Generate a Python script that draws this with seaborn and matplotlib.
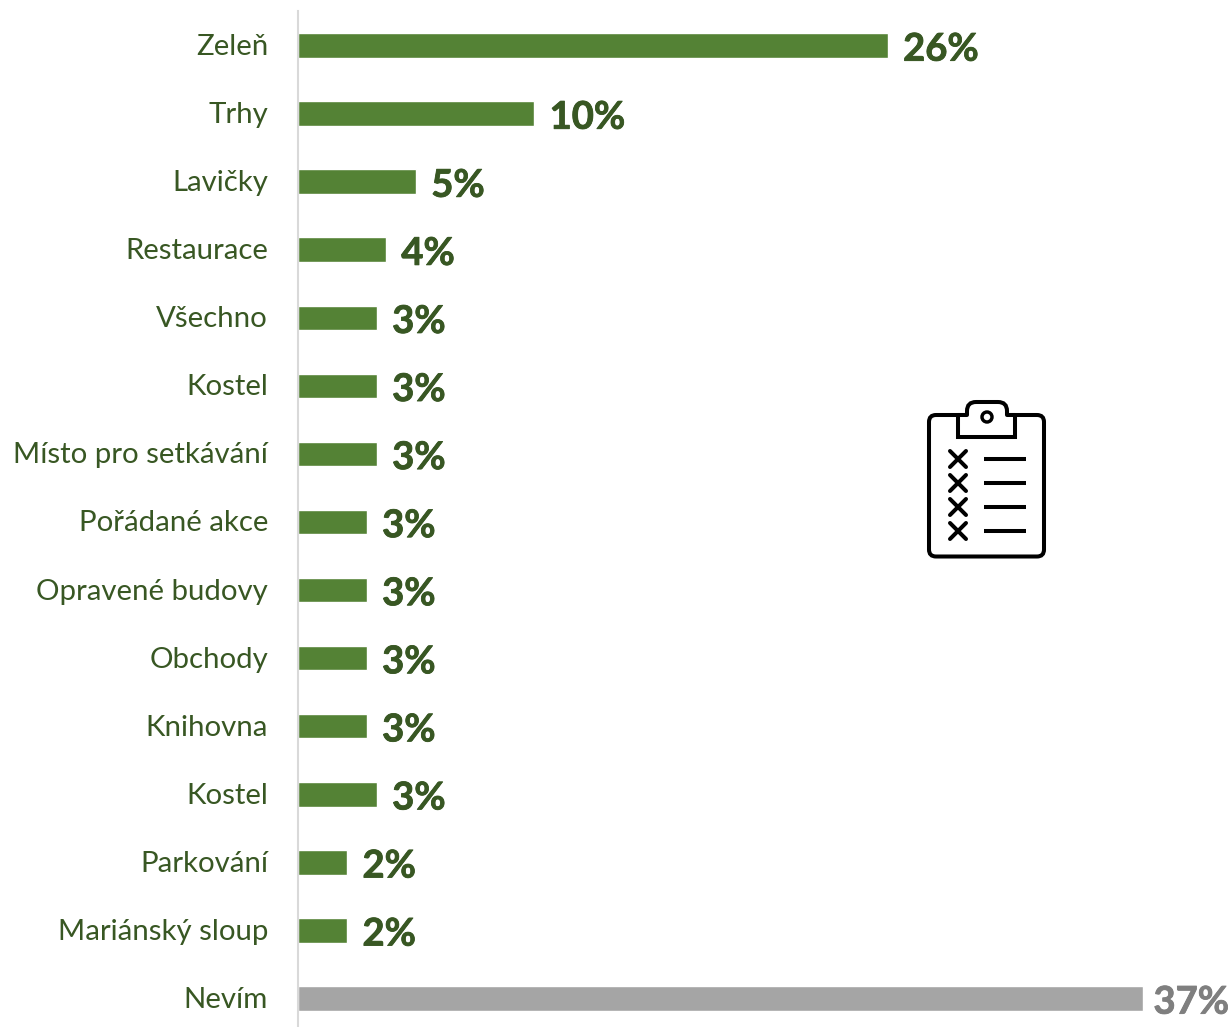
import matplotlib
matplotlib.use("Agg")
import matplotlib.pyplot as plt
import matplotlib.patheffects as pe
from matplotlib.patches import Circle, FancyBboxPatch
from matplotlib.transforms import ScaledTranslation
import pandas as pd
import seaborn as sns

# duplicates on purpose, "Kostel" is in the source chart twice
categories = ["Zeleň", "Trhy", "Lavičky", "Restaurace", "Všechno", "Kostel",
              "Místo pro setkávání", "Pořádané akce", "Opravené budovy",
              "Obchody", "Knihovna", "Kostel", "Parkování", "Mariánský sloup",
              "Nevím"]
values = [25.8, 10.33, 5.15, 3.84, 3.44, 3.44, 3.44, 3.0, 3.0, 3.0, 3.0,
          3.44, 2.14, 2.14, 37.0]
value_labels = ["26%", "10%", "5%", "4%", "3%", "3%", "3%", "3%", "3%", "3%",
                "3%", "3%", "2%", "2%", "37%"]
groups = ["answer"] * 14 + ["none"]

GREEN = "#548235"
GREY = "#A5A5A5"
DARK_GREEN = "#385723"
DARK_GREY = "#7F7F7F"

W, H = 1230, 1027
sns.set_theme(style="white")
plt.rcParams["font.family"] = ["Lato", "DejaVu Sans"]

df = pd.DataFrame({"row": range(len(categories)), "value": values, "group": groups})

fig = plt.figure(figsize=(W / 100, H / 100), dpi=100)
row_h = 68.07
top_px = 45.5 - row_h / 2
ax_h = row_h * len(categories)
ax = fig.add_axes([298 / W, 1 - (top_px + ax_h) / H, (W - 298) / W, ax_h / H])

sns.barplot(data=df, x="value", y="row", hue="group", orient="h", dodge=False,
            palette={"answer": GREEN, "none": GREY}, width=0.36, legend=False,
            saturation=1, ax=ax)

ax.set_xlim(0, (W - 298) / 22.85)
ax.set_xticks([])
ax.set_xlabel("")
ax.set_ylabel("")
ax.set_yticks(range(len(categories)))
ax.set_yticklabels(categories, fontsize=21.2, color=DARK_GREEN)
ax.tick_params(axis="y", length=0, pad=21.5)
# nudge the category names up a pixel
nudge = ScaledTranslation(0, 1 / 100, fig.dpi_scale_trans)
for lab in ax.get_yticklabels():
    lab.set_transform(lab.get_transform() + nudge)
ax.spines[["top", "right", "bottom"]].set_visible(False)
ax.spines["left"].set_color("#D9D9D9")
ax.spines["left"].set_linewidth(1.5)

for i, (val, lab, grp) in enumerate(zip(values, value_labels, groups)):
    colour = DARK_GREEN if grp == "answer" else DARK_GREY
    ax.annotate(lab, (val, i), xytext=(11.2 if grp == "answer" else 7.2, -3),
                textcoords="offset points", va="center", ha="left",
                fontsize=27.5, fontweight="bold", color=colour,
                path_effects=[pe.withStroke(linewidth=0.6, foreground=colour)])

# clipboard icon, drawn in pixel coords on a full figure overlay
icon = fig.add_axes([0, 0, 1, 1], facecolor="none")
icon.set_xlim(0, W)
icon.set_ylim(H, 0)
icon.axis("off")
lw = 2.9
icon.add_patch(FancyBboxPatch((929, 415), 115, 141.5, boxstyle="round,pad=0,rounding_size=7",
                              fc="white", ec="black", lw=lw))
icon.add_patch(FancyBboxPatch((967, 402), 40, 30, boxstyle="round,pad=0,rounding_size=9",
                              fc="white", ec="black", lw=lw, zorder=2))
icon.add_patch(plt.Rectangle((960, 415), 53, 20, fc="white", ec="none", zorder=3))
icon.plot([958, 958, 1015, 1015], [415, 437, 437, 415], color="black", lw=lw, zorder=4,
          solid_joinstyle="miter", solid_capstyle="butt")
icon.plot([958, 967], [415, 415], color="black", lw=lw, zorder=4, solid_capstyle="round")
icon.plot([1007, 1015], [415, 415], color="black", lw=lw, zorder=4, solid_capstyle="round")
icon.add_patch(Circle((987, 417), 5, fc="white", ec="black", lw=lw * 0.85, zorder=5))
for y in [459, 483, 507, 531]:
    icon.plot([950, 966], [y - 8, y + 8], color="black", lw=lw, zorder=4)
    icon.plot([950, 966], [y + 8, y - 8], color="black", lw=lw, zorder=4)
    icon.plot([984, 1026], [y, y], color="black", lw=lw, zorder=4, solid_capstyle="butt")

fig.savefig("out.png", dpi=100)
